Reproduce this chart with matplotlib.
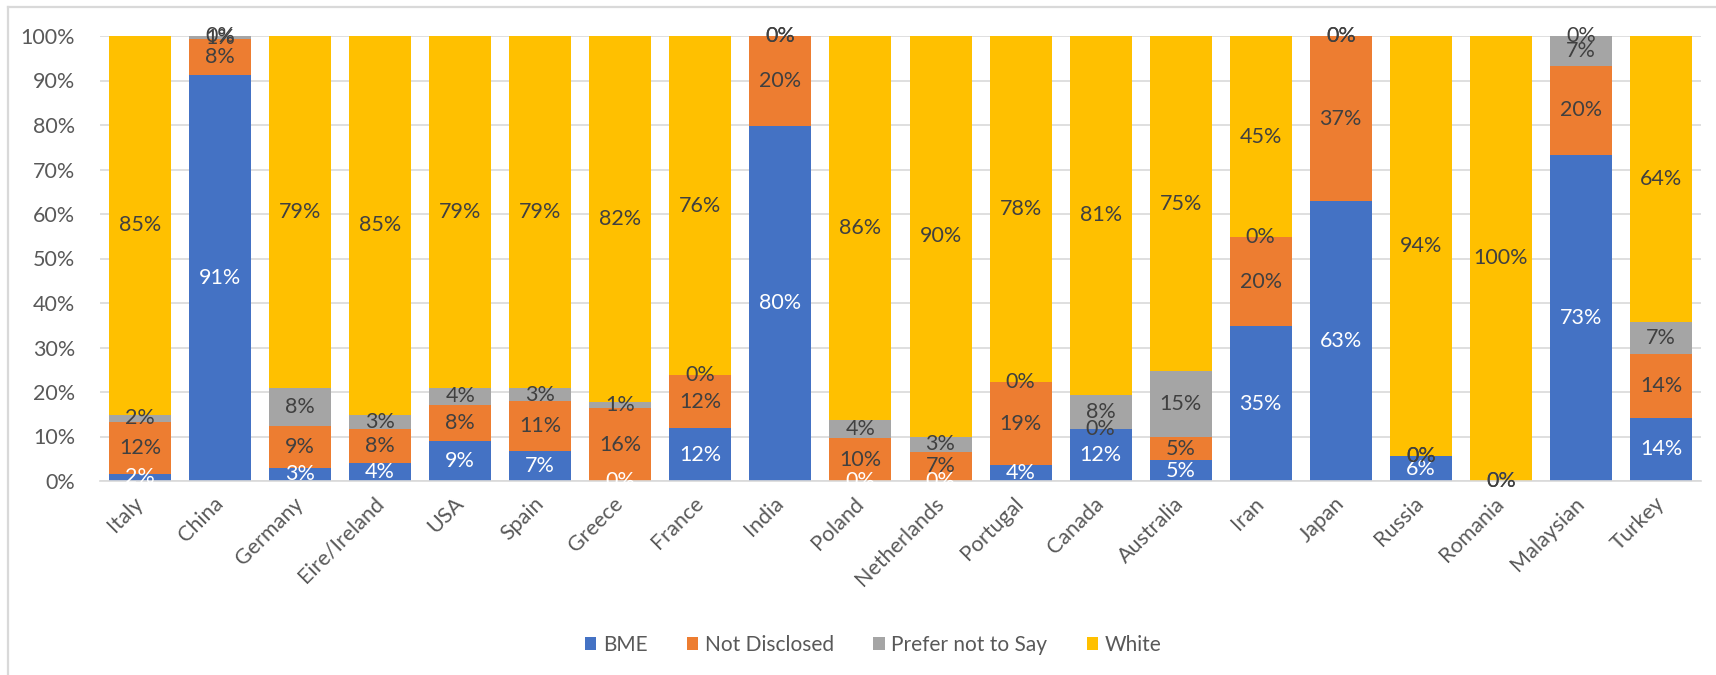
import matplotlib
matplotlib.use("Agg")
import matplotlib.pyplot as plt
from matplotlib.lines import Line2D
from matplotlib.patches import Patch
import numpy as np


# =========================
# Data (percent of respondents per country)
# =========================

countries = [
    "Italy", "China", "Germany", "Eire/Ireland", "USA", "Spain", "Greece",
    "France", "India", "Poland", "Netherlands", "Portugal", "Canada",
    "Australia", "Iran", "Japan", "Russia", "Romania", "Malaysian", "Turkey",
]

bme = [1.6, 91.2, 3.0, 4.1, 9.0, 6.7, 0.0, 11.8, 79.8, 0.0,
       0.0, 3.6, 11.6, 4.7, 34.8, 62.9, 5.6, 0.0, 73.3, 14.2]

not_disclosed = [11.7, 8.1, 9.4, 7.6, 8.1, 11.3, 16.4, 12.0, 20.2, 9.6,
                 6.6, 18.6, 0.0, 5.1, 20.0, 37.1, 0.0, 0.0, 20.0, 14.4]

prefer_not_to_say = [1.6, 0.7, 8.4, 3.2, 3.9, 2.8, 1.3, 0.0, 0.0, 4.0,
                     3.4, 0.0, 7.8, 14.9, 0.0, 0.0, 0.0, 0.0, 6.7, 7.1]

white = [85.1, 0.0, 79.2, 85.1, 79.0, 79.2, 82.3, 76.2, 0.0, 86.4,
         90.0, 77.8, 80.6, 75.3, 45.2, 0.0, 94.4, 100.0, 0.0, 64.3]

series_names = ["BME", "Not Disclosed", "Prefer not to Say", "White"]
series_values = [bme, not_disclosed, prefer_not_to_say, white]
series_colors = ["#4472C4", "#ED7D31", "#A5A5A5", "#FFC000"]
label_colors = ["white", "#404040", "#404040", "#404040"]


# =========================
# Plot
# =========================

plt.rcParams["font.family"] = ["Lato", "DejaVu Sans"]

W, H = 1716, 675
fig = plt.figure(figsize=(W / 100, H / 100), dpi=100)

# chart frame (only left and top edges fall inside the image)
fig.add_artist(Line2D([8 / W, 8 / W], [0, 1 - 7 / H], color="#d9d9d9",
                      lw=1.6, transform=fig.transFigure))
fig.add_artist(Line2D([8 / W, 1], [1 - 7 / H, 1 - 7 / H], color="#d9d9d9",
                      lw=1.6, transform=fig.transFigure))

ax = fig.add_axes([100 / W, 1 - 481 / H, 1601 / W, 445 / H])

x = np.arange(len(countries))
bottom = np.zeros(len(countries))

for name, vals, color, lcolor in zip(series_names, series_values,
                                     series_colors, label_colors):
    vals = np.array(vals)
    bars = ax.bar(x, vals, width=0.775, bottom=bottom, color=color,
                  label=name, zorder=2)
    ax.bar_label(bars, labels=[f"{v:.0f}%" for v in vals],
                 label_type="center", color=lcolor, fontsize=15.5, zorder=3)
    bottom += vals

ax.set_xlim(-0.5, len(countries) - 0.5)
ax.set_ylim(0, 100)
ax.set_yticks(np.arange(0, 101, 10))
ax.set_yticklabels([f"{t}%" for t in range(0, 101, 10)])
ax.yaxis.grid(True, color="#d9d9d9", lw=1.2, zorder=0)
ax.set_axisbelow(True)

for side in ["top", "right", "left"]:
    ax.spines[side].set_visible(False)
ax.spines["bottom"].set_color("#d9d9d9")
ax.spines["bottom"].set_linewidth(1.2)

ax.tick_params(axis="both", length=0, labelsize=15.5, labelcolor="#595959")
ax.tick_params(axis="y", pad=18)
ax.tick_params(axis="x", pad=14)
ax.set_xticks(x)
ax.set_xticklabels(countries, rotation=45, ha="right", va="center",
                   rotation_mode="anchor")

handles = [Patch(facecolor=c, label=n) for n, c in zip(series_names, series_colors)]
fig.legend(handles=handles, loc="center", ncol=4,
           bbox_to_anchor=(873 / W, 1 - 645 / H), frameon=False,
           fontsize=15, labelcolor="#595959", handlelength=0.55,
           handleheight=0.55, handletextpad=0.3, columnspacing=1.9)

fig.savefig("out.png", dpi=100)
